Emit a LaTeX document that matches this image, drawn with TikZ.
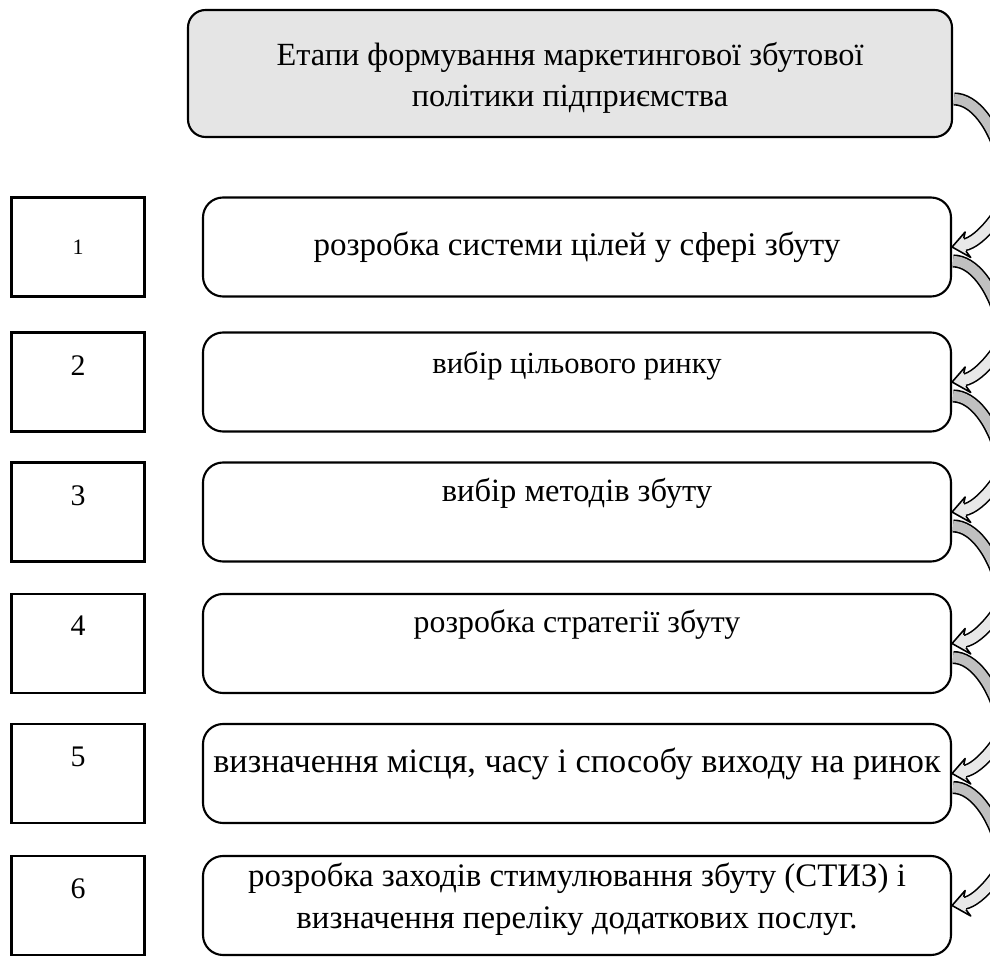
\documentclass[tikz,border=0pt]{standalone}
\usepackage{fontspec}
\setmainfont{Liberation Serif}
\usetikzlibrary{positioning,calc}
\definecolor{boxgray}{HTML}{E5E5E5}
\definecolor{backband}{HTML}{C0C0C0}
\definecolor{frontband}{HTML}{E8E8E8}

\begin{document}
\begin{tikzpicture}[
      txt/.style={font=\fontsize{#1}{24}\selectfont,align=center},
      numbox/.style={draw,line width=1.3pt,minimum width=2.66cm,minimum height=1.98cm},
      stagebox/.style={draw,fill=white,line width=1.2pt,rounded corners=0.4cm,
        minimum width=14.96cm,minimum height=1.98cm},
      band/.style={line width=0.9pt,double distance=0.2cm},
      back/.style={band,double=backband},
      front/.style={band,double=frontband}]
    \useasboundingbox (0,0) rectangle (19.8,19.24);
    \clip (0,0) rectangle (19.8,19.24);
    \node[stagebox,fill=boxgray,minimum width=15.28cm,minimum height=2.54cm,rounded corners=0.35cm]
      (top) at (11.4,17.77) {};
    \node[align=center,font=\fontsize{18.4}{23}\selectfont,yshift=-0.09cm] (title) at (top)
      {Етапи формування маркетингової збутової\\політики підприємства};
    \foreach \i/\y/\fs/\ny/\ts/\ty/\lbl in {
        1/14.30/12.5/0/18.8/0/{розробка системи цілей у сфері збуту},
        2/11.60/17/0.32/17.4/0.33/{вибір цільового ринку},
        3/9.00/17/0.32/18.5/0.38/{вибір методів збуту},
        4/6.37/17/0.35/18.1/0.37/{розробка стратегії збуту},
        5/3.77/17/0.33/19.5/0.2/{визначення місця, часу і способу виходу на ринок},
        6/1.13/17/0.34/18.7/0.12/{розробка заходів стимулювання збуту (СТИЗ) і\\визначення переліку додаткових послуг.}}
      {\node[numbox] (n\i) at (1.56,\y) {};
       \node[font=\fontsize{\fs}{\fs}\selectfont,yshift=\ny cm] (d\i) at (n\i) {\i};
       \node[stagebox] (s\i) at (11.54,\y) {};
       \node[txt=\ts,yshift=\ty cm] (l\i) at (s\i) {\lbl};}
    % curved arrows on the right, running off the page
    \foreach \src/\dst/\dy in {top/s1/-0.51,s1/s2/-0.28,s2/s3/-0.28,s3/s4/-0.28,s4/s5/-0.28,s5/s6/-0.28}
      {\coordinate (out) at ($(\src.east)+(0.02,\dy)$);
       \draw[back] (out) .. controls +(0.4,0) and +(-0.2,0.8) .. ++(1.0,-1.3);
       \coordinate (in) at ($(\dst.east)+(0.236,0.042)$);
       \draw[front] ($(in)+(1.0,1.15)$) .. controls +(-0.2,-0.45) and +(0.35,0.06) .. (in);
       \begin{scope}[shift={(\dst.east)},rotate=190]
         \fill[frontband] (0,0) -- (-0.33,0.27) -- (-0.26,0.13) -- (-0.26,-0.13) -- (-0.31,-0.25) -- cycle;
         \draw[line width=0.9pt,line join=round] (-0.26,0.13) -- (-0.33,0.27) -- (0,0) -- (-0.31,-0.25) -- (-0.26,-0.13);
       \end{scope}}
  \end{tikzpicture}
\end{document}
